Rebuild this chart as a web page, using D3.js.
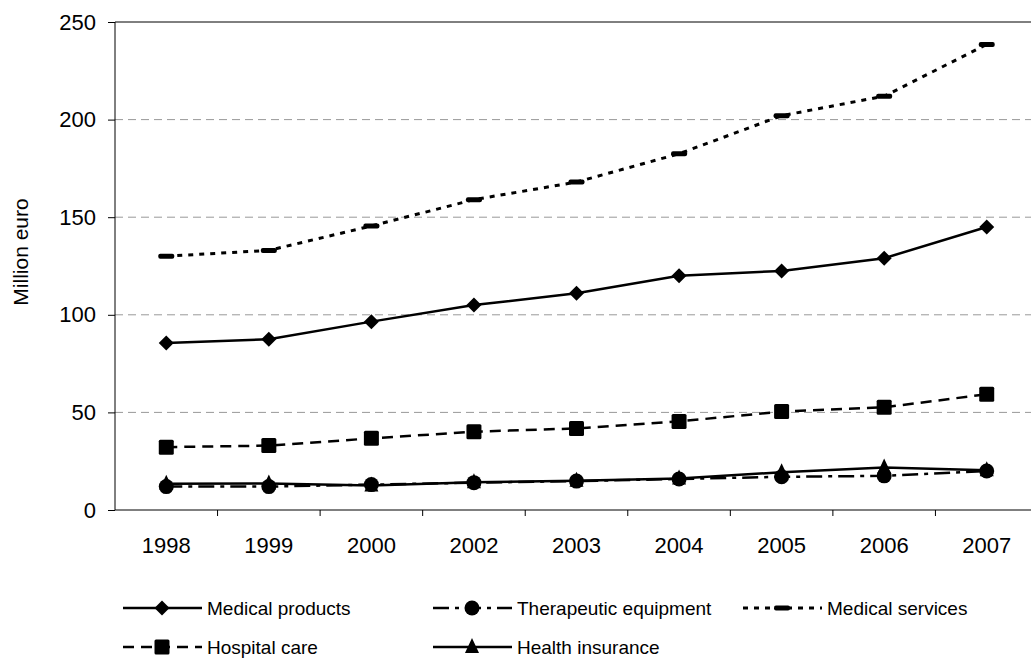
<!DOCTYPE html>
<html>
<head>
<meta charset="utf-8">
<script src="https://cdn.jsdelivr.net/npm/d3@7"></script>
<style>
  body { margin: 0; background: #fff; }
  svg { font-family: "Liberation Sans", Arial, sans-serif; }
</style>
</head>
<body>
<svg width="1031" height="661"></svg>
<script>
// data
const years = ["1998", "1999", "2000", "2002", "2003", "2004", "2005", "2006", "2007"];
const medicalProducts = [85.5, 87.5, 96.5, 105, 111, 120, 122.5, 129, 145];
const therapeuticEquipment = [12, 12, 13, 14, 14.8, 15.9, 17, 17.5, 20];
const medicalServices = [130, 133, 145.5, 159, 168, 182.5, 202, 212, 238.5];
const hospitalCare = [32.2, 33, 36.7, 40.1, 41.8, 45.4, 50.4, 52.6, 59.3];
const healthInsurance = [13.5, 13.6, 12.6, 14.2, 15, 16.2, 19.3, 21.8, 20.3];
const yTicks = [0, 50, 100, 150, 200, 250];

const series = [
  {name: "Medical products", values: medicalProducts, dash: null, marker: "diamond"},
  {name: "Therapeutic equipment", values: therapeuticEquipment, dash: "16,6,4,6", marker: "circle"},
  {name: "Medical services", values: medicalServices, dash: "5,6", marker: "bar"},
  {name: "Hospital care", values: hospitalCare, dash: "11,7", marker: "square"},
  {name: "Health insurance", values: healthInsurance, dash: null, marker: "triangle"}
];

const svg = d3.select("svg");
const plotLeft = 115, plotRight = 1038, plotTop = 22, plotBottom = 510;
const fontFam = "Liberation Sans, Arial, sans-serif";

const x = d3.scaleBand().domain(years).range([plotLeft, plotRight]);
const y = d3.scaleLinear().domain([0, 250]).range([plotBottom, plotTop]);

// gridlines
svg.append("g").selectAll("line")
  .data(yTicks.filter(t => t > 0 && t < 250))
  .enter().append("line")
    .attr("x1", plotLeft).attr("x2", 1031)
    .attr("y1", d => y(d)).attr("y2", d => y(d))
    .attr("stroke", "#999").attr("stroke-width", 1)
    .attr("stroke-dasharray", "8,5");

svg.append("line")
  .attr("x1", plotLeft).attr("x2", 1031)
  .attr("y1", y(250)).attr("y2", y(250))
  .attr("stroke", "#000");

// y axis
const yAxis = svg.append("g")
  .attr("transform", `translate(${plotLeft},0)`)
  .call(d3.axisLeft(y).tickValues(yTicks).tickSize(7).tickPadding(12));
yAxis.selectAll("text").attr("font-size", "22px").attr("fill", "#000").style("font-family", fontFam);
yAxis.selectAll("line,path").attr("stroke", "#000");
yAxis.select(".domain").attr("d", `M0,${y(250)}V${plotBottom}`);

// x axis
const xAxis = svg.append("g")
  .attr("transform", `translate(0,${plotBottom})`)
  .call(d3.axisBottom(x).tickSize(0).tickPadding(27));
xAxis.selectAll("text").attr("font-size", "22px").attr("fill", "#000").style("font-family", fontFam);
xAxis.select(".domain").attr("stroke", "#000").attr("d", `M${plotLeft},0H1031`);
xAxis.selectAll(".bound")
  .data(years.slice(1))
  .enter().append("line")
    .attr("class", "bound")
    .attr("x1", d => x(d)).attr("x2", d => x(d))
    .attr("y1", 0).attr("y2", 6)
    .attr("stroke", "#000");

svg.append("text")
  .attr("transform", `translate(28,252) rotate(-90)`)
  .attr("text-anchor", "middle")
  .attr("font-size", "21px")
  .text("Million euro");

function drawMarker(g, type, cx, cy) {
  if (type === "diamond") {
    g.append("path").attr("d", `M${cx},${cy - 7.5}L${cx + 7.5},${cy}L${cx},${cy + 7.5}L${cx - 7.5},${cy}Z`).attr("fill", "#000");
  } else if (type === "circle") {
    g.append("circle").attr("cx", cx).attr("cy", cy).attr("r", 7.5).attr("fill", "#000");
  } else if (type === "square") {
    g.append("rect").attr("x", cx - 7.5).attr("y", cy - 7.5).attr("width", 15).attr("height", 15).attr("rx", 1.5).attr("fill", "#000");
  } else if (type === "triangle") {
    g.append("path").attr("d", `M${cx},${cy - 9}L${cx + 7},${cy + 6}L${cx - 7},${cy + 6}Z`).attr("fill", "#000");
  } else if (type === "bar") {
    g.append("rect").attr("x", cx - 8).attr("y", cy - 2.5).attr("width", 16).attr("height", 5).attr("rx", 2).attr("fill", "#000");
  }
}

const line = d3.line()
  .x((d, i) => x(years[i]) + x.bandwidth() / 2)
  .y(d => y(d));

series.forEach(s => {
  const g = svg.append("g");
  g.append("path")
    .attr("d", line(s.values))
    .attr("fill", "none")
    .attr("stroke", "#000")
    .attr("stroke-width", s.marker === "bar" ? 3 : 2.5)
    .attr("stroke-dasharray", s.dash);
  s.values.forEach((v, i) => drawMarker(g, s.marker, x(years[i]) + x.bandwidth() / 2, y(v)));
});

// legend (second row nudged up so it stays inside the frame)
const legendPos = [[123, 608], [433, 608], [743, 608], [123, 647], [433, 647]];
series.forEach((s, i) => {
  const [lx, ly] = legendPos[i];
  const g = svg.append("g");
  g.append("line")
    .attr("x1", lx).attr("x2", lx + 79)
    .attr("y1", ly).attr("y2", ly)
    .attr("stroke", "#000")
    .attr("stroke-width", s.marker === "bar" ? 3 : 2.5)
    .attr("stroke-dasharray", s.dash);
  drawMarker(g, s.marker, lx + 39, ly);
  g.append("text")
    .attr("x", lx + 84).attr("y", ly + 7)
    .attr("font-size", "19px")
    .text(s.name);
});
</script>
</body>
</html>
